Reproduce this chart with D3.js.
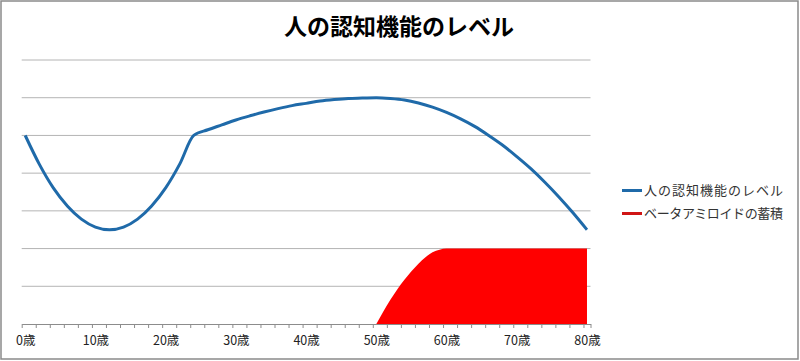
<!DOCTYPE html>
<html><head><meta charset="utf-8">
<script src="https://cdn.jsdelivr.net/npm/d3@7"></script>
<style>body{margin:0;background:#fff}svg{display:block}</style>
</head><body>
<svg id="c" width="800" height="361"></svg>
<script>
const chartTitle = "人の認知機能のレベル";
const seriesNames = ["人の認知機能のレベル", "ベータアミロイドの蓄積"];
const cognitionAges = [0,2,4,6,8,10,12,14,16,18,20,22,24,26,28,30,32,34,36,38,40,42,44,46,48,50,52,54,56,58,60,62,64,66,68,70,72,74,76,78,80];
const cognitionValues = [5.00,4.24,3.61,3.13,2.78,2.57,2.50,2.57,2.78,3.13,3.61,4.24,5.00,5.15,5.28,5.41,5.52,5.62,5.71,5.79,5.85,5.91,5.95,5.98,5.99,6.00,5.98,5.94,5.86,5.75,5.61,5.44,5.24,5.00,4.74,4.44,4.12,3.76,3.37,2.95,2.50];
const amyloidAges = [50,51,52,53,54,55,56,57,58,59,60,62,64,66,68,70,72,74,76,78,80];
const amyloidValues = [0,0.33,0.64,0.92,1.17,1.40,1.60,1.77,1.90,1.97,2.0,2.0,2.0,2.0,2.0,2.0,2.0,2.0,2.0,2.0,2.0];
const labelAges = [0,10,20,30,40,50,60,70,80];
const tickLabels = ["0歳","10歳","20歳","30歳","40歳","50歳","60歳","70歳","80歳"];
const gridValues = [1,2,3,4,5,6,7];
const colors = ["#1f6aa9", "#ff0000"];

const svg = d3.select("#c");
const FONT = "'Noto Sans CJK JP', 'Noto Sans', sans-serif";

svg.append("rect").attr("x",1).attr("y",1).attr("width",797).attr("height",358)
  .attr("fill","#fff").attr("stroke","#8a8a8a").attr("stroke-width",1.5);

const x = d3.scaleLinear().domain([-0.5, 80.5]).range([21.7, 590.5]);
const y = d3.scaleLinear().domain([0, 7]).range([324, 60]);

// gridlines
svg.append("g").selectAll("line").data(gridValues).join("line")
  .attr("x1", x(-0.5)).attr("x2", x(80.5))
  .attr("y1", d => y(d)).attr("y2", d => y(d))
  .attr("stroke", "#b4b4b4").attr("stroke-width", 1);

// red area
const area = d3.area().x((d,i) => x(amyloidAges[i])).y0(y(0)).y1(d => y(d)).curve(d3.curveMonotoneX);
svg.append("path").attr("d", area(amyloidValues)).attr("fill", colors[1]);

// blue line
const line = d3.line().x((d,i) => x(cognitionAges[i])).y(d => y(d)).curve(d3.curveMonotoneX);
svg.append("path").attr("d", line(cognitionValues)).attr("fill","none")
  .attr("stroke", colors[0]).attr("stroke-width", 3).attr("stroke-linejoin","round");

// x axis minor ticks
const minorTicks = d3.range(-0.5, 81, 2).concat([80.5]);
const ax = svg.append("g").attr("transform", `translate(0,${y(0)})`)
  .call(d3.axisBottom(x).tickValues(minorTicks).tickSize(4).tickSizeOuter(0).tickFormat(""));
ax.select(".domain").attr("stroke", "#8c8c8c");
ax.selectAll(".tick line").attr("stroke", "#8c8c8c");

// x labels
const lab = svg.append("g").attr("transform", `translate(0,${y(0)})`)
  .call(d3.axisBottom(x).tickValues(labelAges).tickSize(0).tickPadding(12).tickFormat((d,i) => tickLabels[i]));
lab.select(".domain").remove();
lab.selectAll("text").attr("font-family", FONT).attr("font-size", 12.5).attr("fill", "#222");

// title
svg.append("text").attr("x", 399).attr("y", 35).attr("text-anchor","middle")
  .attr("font-family", FONT).attr("font-weight","bold").attr("font-size", 23)
  .attr("fill","#000").text(chartTitle);

// legend
const lg = svg.append("g");
seriesNames.forEach((name, i) => {
  const ly = 190.5 + i * 23;
  lg.append("line").attr("x1", 622).attr("x2", 642).attr("y1", ly).attr("y2", ly)
    .attr("stroke", i === 0 ? colors[0] : "#d01515").attr("stroke-width", 3);
  lg.append("text").attr("x", 644).attr("y", ly + 4.5)
    .attr("font-family", FONT).attr("font-size", 13).attr("fill", "#333")
    .attr("textLength", 139).attr("lengthAdjust","spacing").text(name);
});
</script>
</body></html>
